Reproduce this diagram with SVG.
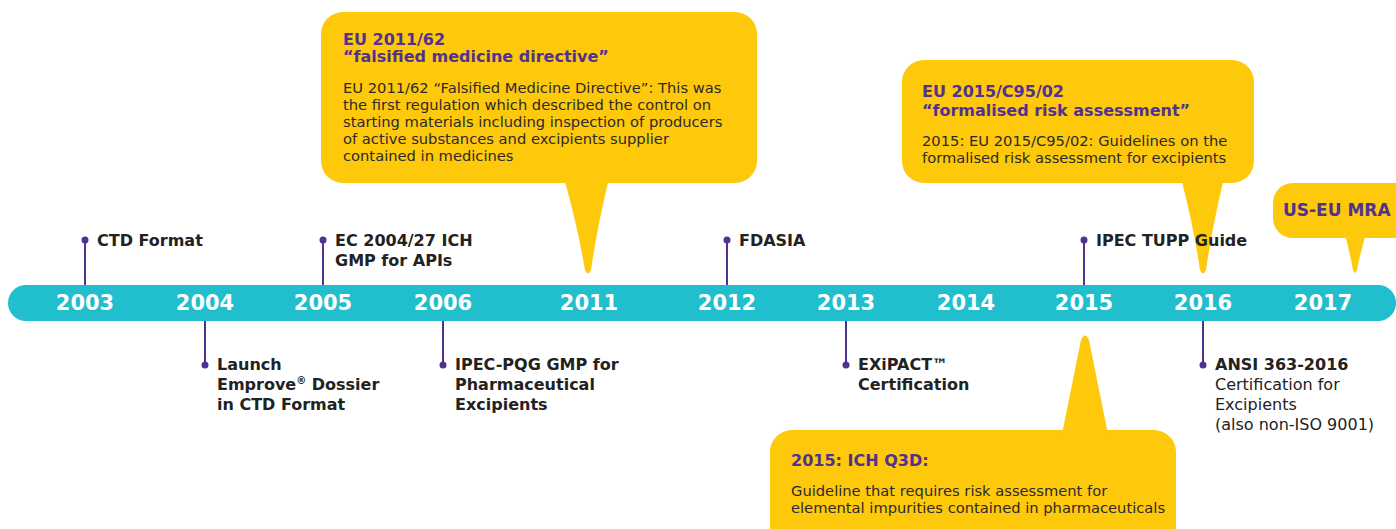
<svg xmlns="http://www.w3.org/2000/svg" width="1396" height="529" viewBox="0 0 1396 529">
<style>
.bub{fill:#FEC80B}
.yr{font-family:"DejaVu Sans",Verdana,sans-serif;font-weight:bold;font-size:21px;fill:#fff;text-anchor:middle}
.lb{font-family:"DejaVu Sans",Verdana,sans-serif;font-weight:bold;font-size:16px;fill:#222}
.rg{font-family:"DejaVu Sans",Verdana,sans-serif;font-size:16px;fill:#222}
.tt{font-family:"DejaVu Sans",Verdana,sans-serif;font-weight:bold;font-size:16px;fill:#503291}
.bd{font-family:"DejaVu Sans",Verdana,sans-serif;font-size:14.7px;fill:#2b2b2b}
.ln{stroke:#503291;stroke-width:2;fill:none}
.dt{fill:#503291}
</style>
<rect width="1396" height="529" fill="#fff"/>
<g id="c2011">
<rect class="bub" x="321" y="12" width="436" height="171" rx="22"/>
<path class="bub" d="M564,178 Q578,228 585,270 Q588,277 591,270 Q597,228 609,178 Z"/>
<text class="tt" x="343" y="45">EU 2011/62</text>
<text class="tt" x="343" y="62">“falsified medicine directive”</text>
<text class="bd" x="343" y="93">EU 2011/62 “Falsified Medicine Directive”: This was</text>
<text class="bd" x="343" y="110">the first regulation which described the control on</text>
<text class="bd" x="343" y="127">starting materials including inspection of producers</text>
<text class="bd" x="343" y="144">of active substances and excipients supplier</text>
<text class="bd" x="343" y="161">contained in medicines</text>
</g>
<g id="c2015a">
<rect class="bub" x="902" y="60" width="352" height="123" rx="22"/>
<path class="bub" d="M1181,178 Q1194,228 1200,270 Q1203,277 1206,270 Q1212,228 1224,178 Z"/>
<text class="tt" x="922" y="97">EU 2015/C95/02</text>
<text class="tt" x="922" y="116">“formalised risk assessment”</text>
<text class="bd" x="922" y="146">2015: EU 2015/C95/02: Guidelines on the</text>
<text class="bd" x="922" y="163">formalised risk assessment for excipients</text>
</g>
<g id="c2017">
<rect class="bub" x="1273" y="183" width="150" height="55" rx="20"/>
<path class="bub" d="M1345,234 Q1350,254 1353,270 Q1355,276 1357,270 Q1360,254 1366,234 Z"/>
<text class="tt" x="1283" y="216" style="font-size:17px">US-EU MRA</text>
</g>
<g id="c2015b">
<rect class="bub" x="770" y="430" width="406" height="120" rx="22"/>
<path class="bub" d="M1062,434 Q1073,380 1081,340 Q1085,331 1089,340 Q1097,380 1108,434 Z"/>
<text class="tt" x="791" y="466">2015: ICH Q3D:</text>
<text class="bd" x="791" y="496">Guideline that requires risk assessment for</text>
<text class="bd" x="791" y="513">elemental impurities contained in pharmaceuticals</text>
</g>
<g id="timeline">
<rect x="8" y="285" width="1388" height="36" rx="18" fill="#21BECE"/>
<text class="yr" x="85" y="310">2003</text>
<text class="yr" x="205" y="310">2004</text>
<text class="yr" x="323" y="310">2005</text>
<text class="yr" x="443" y="310">2006</text>
<text class="yr" x="589" y="310">2011</text>
<text class="yr" x="727" y="310">2012</text>
<text class="yr" x="846" y="310">2013</text>
<text class="yr" x="966" y="310">2014</text>
<text class="yr" x="1084" y="310">2015</text>
<text class="yr" x="1203" y="310">2016</text>
<text class="yr" x="1323" y="310">2017</text>
</g>
<g id="connectors">
<line class="ln" x1="85" y1="240" x2="85" y2="285"/><circle class="dt" cx="85" cy="240" r="3.5"/>
<line class="ln" x1="323" y1="240" x2="323" y2="285"/><circle class="dt" cx="323" cy="240" r="3.5"/>
<line class="ln" x1="727" y1="240" x2="727" y2="285"/><circle class="dt" cx="727" cy="240" r="3.5"/>
<line class="ln" x1="1084" y1="240" x2="1084" y2="285"/><circle class="dt" cx="1084" cy="240" r="3.5"/>
<line class="ln" x1="205" y1="321" x2="205" y2="365"/><circle class="dt" cx="205" cy="365" r="3.5"/>
<line class="ln" x1="443" y1="321" x2="443" y2="365"/><circle class="dt" cx="443" cy="365" r="3.5"/>
<line class="ln" x1="846" y1="321" x2="846" y2="365"/><circle class="dt" cx="846" cy="365" r="3.5"/>
<line class="ln" x1="1203" y1="321" x2="1203" y2="365"/><circle class="dt" cx="1203" cy="365" r="3.5"/>
</g>
<g id="n2003"><text class="lb" x="97" y="246">CTD Format</text></g>
<g id="n2005"><text class="lb" x="335" y="246">EC 2004/27 ICH</text><text class="lb" x="335" y="266">GMP for APIs</text></g>
<g id="n2012"><text class="lb" x="739" y="246">FDASIA</text></g>
<g id="n2015"><text class="lb" x="1096" y="246">IPEC TUPP Guide</text></g>
<g id="n2004"><text class="lb" x="217" y="370">Launch</text><text class="lb" x="217" y="390">Emprove<tspan font-size="10" dy="-6">®</tspan><tspan dy="6"> Dossier</tspan></text><text class="lb" x="217" y="410">in CTD Format</text></g>
<g id="n2006"><text class="lb" x="455" y="370">IPEC-PQG GMP for</text><text class="lb" x="455" y="390">Pharmaceutical</text><text class="lb" x="455" y="410">Excipients</text></g>
<g id="n2013"><text class="lb" x="858" y="370">EXiPACT™</text><text class="lb" x="858" y="390">Certification</text></g>
<g id="n2016"><text class="lb" x="1215" y="370">ANSI 363-2016</text><text class="rg" x="1215" y="390">Certification for</text><text class="rg" x="1215" y="410">Excipients</text><text class="rg" x="1215" y="430">(also non-ISO 9001)</text></g>
</svg>
